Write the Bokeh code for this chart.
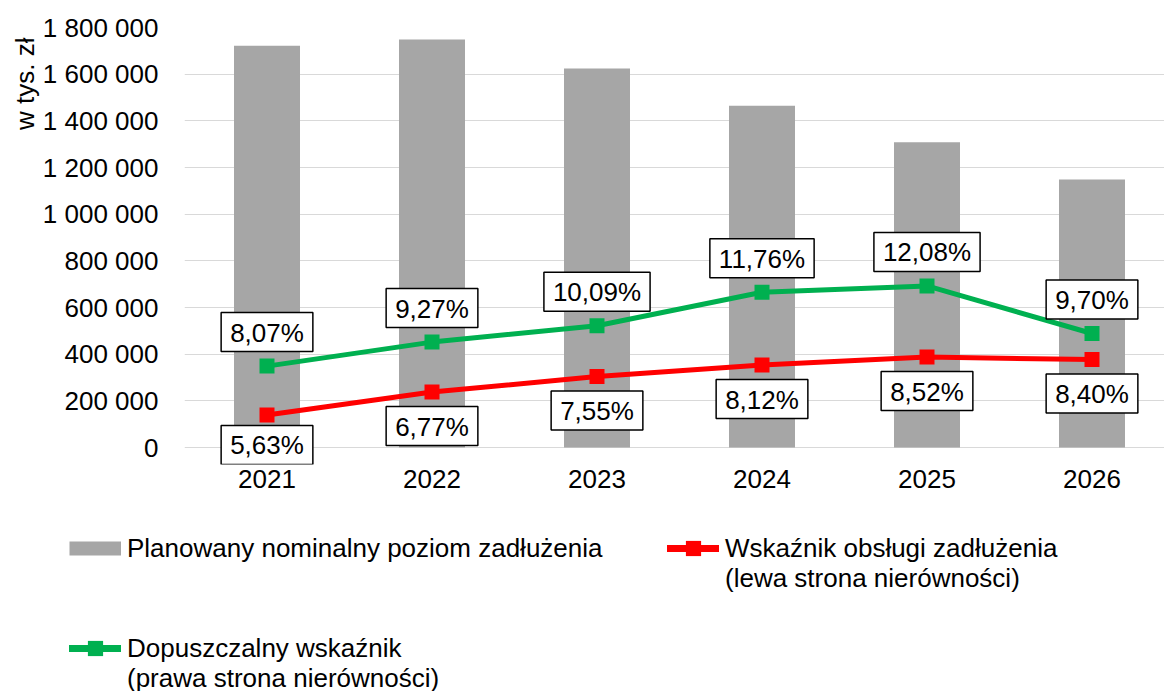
from bokeh.plotting import figure
from bokeh.layouts import column
from bokeh.models import (Range1d, FixedTicker, ColumnDataSource, Legend,
                          LegendItem, Title, LinearAxis)
from bokeh.core.properties import value
from bokeh.embed import file_html
from bokeh.resources import INLINE

# ---------------- data ----------------
years = ["2021", "2022", "2023", "2024", "2025", "2026"]
debt_level = [1722000, 1749000, 1624000, 1465000, 1308000, 1149000]
debt_service_pct = [5.63, 6.77, 7.55, 8.12, 8.52, 8.40]      # red
allowed_pct = [8.07, 9.27, 10.09, 11.76, 12.08, 9.70]        # green
y_ticks = [0, 200000, 400000, 600000, 800000, 1000000, 1200000,
           1400000, 1600000, 1800000]
y_tick_labels = ["0", "200 000", "400 000", "600 000", "800 000",
                 "1 000 000", "1 200 000", "1 400 000", "1 600 000",
                 "1 800 000"]
name_bars = "Planowany nominalny poziom zadłużenia"
name_red = "Wskaźnik obsługi zadłużenia\n(lewa strona nierówności)"
name_green = "Dopuszczalny wskaźnik\n(prawa strona nierówności)"
axis_title = "w tys. zł"

# ---------------- style ----------------
FONT = "Liberation Sans"
FS = "26px"
GRAY = "#a6a6a6"
RED = "#ff0000"
GREEN = "#00b050"
GRID = "#d9d9d9"
red_label_dy = [30, 34, 34, 34, 34, 34]
green_label_dy = [-34, -34, -34, -34, -34, -34]
NAN = float("nan")

W = 1164
H1 = 500                 # chart part
H2 = 191                 # legend part
FR_TOP, FR_BOT, FR_LEFT = 27, 464, 184
ZERO_PX = 447            # pixel row of the value axis zero
PLOT_H = ZERO_PX - FR_TOP
below = FR_BOT - ZERO_PX
y_max = y_ticks[-1]
y_min = -y_max * below / PLOT_H
pct_lo, pct_hi = 4.0, 25.0
pct_min = pct_lo - (pct_hi - pct_lo) * below / PLOT_H
CAT_PX = 165.0
x_hi = -0.5 + (W - FR_LEFT) / CAT_PX


def pct_text(v):
    return f"{v:.2f}".replace(".", ",") + "%"


xs = list(range(len(years)))
src = ColumnDataSource(dict(
    x=xs, debt=debt_level, red=debt_service_pct, green=allowed_pct,
    red_lbl=[pct_text(v) for v in debt_service_pct],
    green_lbl=[pct_text(v) for v in allowed_pct],
    red_dy=red_label_dy, green_dy=green_label_dy,
))

p = figure(width=W, height=H1, output_backend="svg", toolbar_location=None,
           x_range=Range1d(-0.5, x_hi), y_range=Range1d(y_min, y_max),
           min_border_left=FR_LEFT, min_border_right=0,
           min_border_top=FR_TOP, min_border_bottom=H1 - FR_BOT)
p.frame_align = False
p.extra_y_ranges = {"pct": Range1d(pct_min, pct_hi)}
p.outline_line_color = None
p.background_fill_color = "white"
p.border_fill_color = "white"

# axes
p.yaxis.ticker = FixedTicker(ticks=y_ticks)
p.yaxis.major_label_overrides = {t: l for t, l in zip(y_ticks, y_tick_labels)}
p.xaxis.ticker = FixedTicker(ticks=xs)
p.xaxis.major_label_overrides = {i: y for i, y in zip(xs, years)}
for ax in (p.xaxis, p.yaxis):
    ax.axis_line_color = None
    ax.major_tick_line_color = None
    ax.minor_tick_line_color = None
    ax.major_tick_out = 0
    ax.major_tick_in = 0
    ax.major_label_text_font = FONT
    ax.major_label_text_font_size = FS
    ax.major_label_text_color = "#000000"
p.yaxis.major_label_standoff = 26
p.xaxis.major_label_standoff = 5
p.xgrid.visible = False
p.ygrid.grid_line_color = GRID
p.ygrid.grid_line_width = 1

# empty spacer axis (no ticks) between the value labels and the axis title
spacer = LinearAxis(ticker=FixedTicker(ticks=[]), axis_line_color=None,
                    major_tick_line_color="white", minor_tick_line_color=None,
                    major_tick_out=7, major_tick_in=0,
                    major_label_standoff=0)
p.add_layout(spacer, "left")

# axis title (top-aligned, rotated)
p.add_layout(Title(text=axis_title, align="right", text_font=FONT,
                   text_font_size=FS, text_font_style="normal",
                   text_color="#000000", standoff=0, offset=10), "left")

# bars
p.vbar(x="x", top="debt", width=0.4, source=src, fill_color=GRAY,
       line_color=None)

# lines
p.line("x", "green", source=src, y_range_name="pct", line_color=GREEN,
       line_width=5, line_join="round")
p.line("x", "red", source=src, y_range_name="pct", line_color=RED,
       line_width=5, line_join="round")
p.scatter("x", "green", source=src, y_range_name="pct", marker="square",
          size=15, fill_color=GREEN, line_color=None)
p.scatter("x", "red", source=src, y_range_name="pct", marker="square",
          size=15, fill_color=RED, line_color=None)

# data labels
pad = dict(left=9, right=9, top=5, bottom=4)
for col, lbl, dy in (("green", "green_lbl", "green_dy"),
                     ("red", "red_lbl", "red_dy")):
    p.text(x="x", y=col, text=lbl, source=src, y_range_name="pct",
           y_offset=dy, text_align="center", text_baseline="middle",
           text_font=value(FONT), text_font_size=value(FS),
           text_color="#000000", background_fill_color="white",
           border_line_color="#000000", border_line_width=1.5,
           padding=pad)

# ---------------- legend part ----------------
lf = figure(width=W, height=H2, output_backend="svg", toolbar_location=None,
            x_range=Range1d(0, 1), y_range=Range1d(0, 1),
            x_axis_type=None, y_axis_type=None, min_border=0)
lf.frame_align = False
lf.outline_line_color = None
lf.background_fill_color = "white"
lf.border_fill_color = "white"

# legend swatches (one invisible NaN point each, only shown in the legend)
gray_px = lf.line(x=[NAN], y=[NAN], line_color=GRAY, line_width=14,
                  line_cap="butt")
red_px = lf.line(x=[NAN], y=[NAN], line_color=RED, line_width=7,
                 line_cap="round")
red_mk = lf.scatter(x=[NAN], y=[NAN], marker="square", fill_color=RED,
                    line_color=None)
green_px = lf.line(x=[NAN], y=[NAN], line_color=GREEN, line_width=7,
                   line_cap="round")
green_mk = lf.scatter(x=[NAN], y=[NAN], marker="square", fill_color=GREEN,
                      line_color=None)
blank_px = lf.line(x=[NAN], y=[NAN], line_alpha=0)

LINE_PITCH = 29.5        # distance between wrapped legend lines
ROW_PITCH = 100          # distance between legend rows
COL1_X, COL2_X = 69, 667
ROW1_Y = 124


def add_legend(label, renderers, loc):
    lg = Legend(items=[LegendItem(label=label, renderers=renderers)],
                location=loc, orientation="vertical",
                border_line_color=None, background_fill_alpha=0,
                padding=0, margin=0, spacing=0,
                glyph_width=52, glyph_height=38, label_standoff=6,
                label_text_font=FONT, label_text_font_size=FS,
                label_text_color="#000000")
    lf.add_layout(lg, "center")


def add_entry(name, renderers, x, y):
    for k, line in enumerate(name.split("\n")):
        add_legend(line, renderers if k == 0 else [blank_px],
                   (x, round(y - k * LINE_PITCH)))


add_entry(name_bars, [gray_px], COL1_X, ROW1_Y)
add_entry(name_red, [red_px, red_mk], COL2_X, ROW1_Y)
add_entry(name_green, [green_px, green_mk], COL1_X, ROW1_Y - ROW_PITCH)

open("out.html", "w").write(file_html(column(p, lf), INLINE))
